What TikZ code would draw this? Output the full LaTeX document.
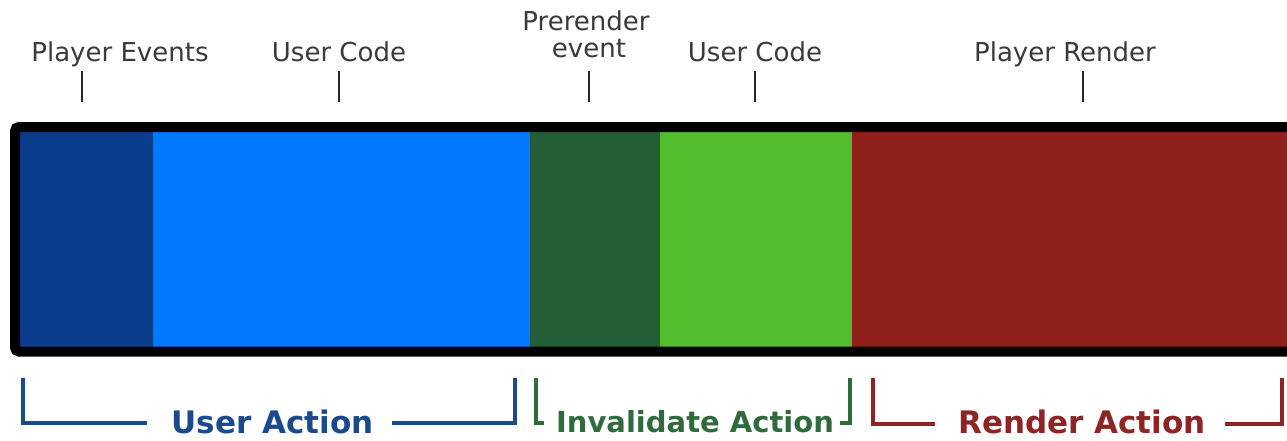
\documentclass[tikz,border=0pt]{standalone}
\usepackage{fontspec}
\setmainfont{DejaVu Sans}
\definecolor{pdark}{HTML}{0A3E8C}
\definecolor{ublue}{HTML}{0077FF}
\definecolor{gdark}{HTML}{235E36}
\definecolor{glight}{HTML}{52BE2E}
\definecolor{rrender}{HTML}{90201B}
\definecolor{lblgray}{HTML}{3A3A3A}
\definecolor{bblue}{HTML}{1B4A8C}
\definecolor{bgreen}{HTML}{2F6B3D}
\definecolor{bred}{HTML}{8E2424}
\begin{document}
\begin{tikzpicture}[x=1pt,y=-1pt,
  toplbl/.style={anchor=base, inner sep=0pt, text=lblgray, font=\fontsize{26}{26}\selectfont},
  ticklne/.style={draw=black!85, line width=2pt},
  brk/.style={line width=3.5pt, line join=miter, line cap=butt},
  actlbl/.style={anchor=base, inner sep=0pt, font=\bfseries\fontsize{31}{31}\selectfont},
  seg/.style={draw=none, inner sep=0pt, outer sep=0pt}]
\clip (0,0) rectangle (1287,440);
\fill[white] (0,0) rectangle (1287,440);
% bar segments
\fill[pdark] (15,127) rectangle (153,351.5);
\fill[ublue] (153,127) rectangle (530,351.5);
\fill[gdark] (530,127) rectangle (660,351.5);
\fill[glight] (660,127) rectangle (852,351.5);
\fill[rrender] (852,127) rectangle (1310,351.5);
\draw[line width=10pt, rounded corners=4pt] (1310,127) -- (15,127) -- (15,351.5) -- (1310,351.5);
% top labels
\node[toplbl] (pe) at (120,61) {Player Events};
\node[toplbl] (uc1) at (339,61) {User Code};
\node[toplbl] (pr1) at (586,30) {Prerender};
\node[toplbl] (pr2) at (589,57) {event};
\node[toplbl] (uc2) at (755,61) {User Code};
\node[toplbl] (prn) at (1065,61) {Player Render};
% ticks
\coordinate (t1a) at (82,71); \coordinate (t1b) at (82,102);
\coordinate (t2a) at (339,71); \coordinate (t2b) at (339,102);
\coordinate (t3a) at (589,71); \coordinate (t3b) at (589,102);
\coordinate (t4a) at (755,71); \coordinate (t4b) at (755,102);
\coordinate (t5a) at (1083,71); \coordinate (t5b) at (1083,102);
\draw[ticklne] (t1a) -- (t1b);
\draw[ticklne] (t2a) -- (t2b);
\draw[ticklne] (t3a) -- (t3b);
\draw[ticklne] (t4a) -- (t4b);
\draw[ticklne] (t5a) -- (t5b);
% bottom brackets
\node[actlbl, text=bblue] (ua) at (272.5,433) {User Action};
\draw[brk, bblue] (23,378) -- (23,423) -- (147,423);
\draw[brk, bblue] (392,423) -- (515,423) -- (515,378);
\node[actlbl, text=bgreen, font=\bfseries\fontsize{29}{29}\selectfont] (ia) at (695,432) {Invalidate Action};
\draw[brk, bgreen] (536,378) -- (536,423) -- (544,423);
\draw[brk, bgreen] (840,423) -- (850,423) -- (850,378);
\node[actlbl, text=bred] (ra) at (1082,433) {Render Action};
\draw[brk, bred] (873,378) -- (873,424) -- (935,424);
\draw[brk, bred] (1225,424) -- (1282,424) -- (1282,378);
\end{tikzpicture}
\end{document}
